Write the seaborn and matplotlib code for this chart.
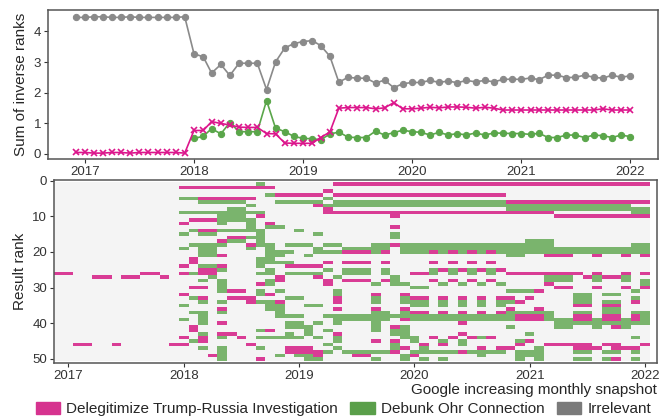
import numpy as np
import pandas as pd
import matplotlib.pyplot as plt
import matplotlib.dates as mdates
import seaborn as sns
from matplotlib.colors import ListedColormap
from matplotlib.patches import Patch

# Monthly snapshots, Dec 2016 .. Jan 2022
months = pd.date_range("2016-12-01", "2022-01-01", freq="MS")

# Sum of inverse ranks per snapshot
irrelevant = [4.46, 4.46, 4.48, 4.48, 4.46, 4.46, 4.48, 4.46, 4.46, 4.46, 4.46, 4.46, 4.48,
              3.27, 3.17, 2.64, 2.92, 2.56, 2.96, 2.96, 2.96, 2.10, 3.00, 3.46, 3.60, 3.67,
              3.70, 3.54, 3.19, 2.34, 2.50, 2.47, 2.47, 2.31, 2.41, 2.16, 2.29, 2.33, 2.33,
              2.40, 2.33, 2.38, 2.32, 2.40, 2.35, 2.40, 2.35, 2.43, 2.44, 2.43, 2.48, 2.42,
              2.57, 2.57, 2.49, 2.50, 2.57, 2.50, 2.47, 2.57, 2.50, 2.55]
delegitimize = [0.04, 0.04, 0.02, 0.02, 0.04, 0.04, 0.02, 0.04, 0.04, 0.04, 0.04, 0.04, 0.02,
                0.76, 0.76, 1.05, 0.99, 0.94, 0.87, 0.86, 0.86, 0.66, 0.65, 0.35, 0.34, 0.34,
                0.34, 0.53, 0.71, 1.49, 1.51, 1.51, 1.51, 1.47, 1.50, 1.67, 1.47, 1.47, 1.49,
                1.52, 1.50, 1.53, 1.53, 1.52, 1.49, 1.52, 1.49, 1.43, 1.43, 1.43, 1.43, 1.43,
                1.43, 1.43, 1.43, 1.43, 1.43, 1.43, 1.47, 1.43, 1.43, 1.43]
debunk = [np.nan] * 13 + [0.50, 0.57, 0.82, 0.65, 1.02, 0.72, 0.72, 0.72, 1.74, 0.84, 0.72,
                          0.57, 0.50, 0.49, 0.46, 0.64, 0.71, 0.54, 0.53, 0.53, 0.74, 0.61,
                          0.69, 0.77, 0.72, 0.70, 0.61, 0.70, 0.61, 0.66, 0.61, 0.68, 0.61,
                          0.68, 0.67, 0.66, 0.66, 0.63, 0.67, 0.53, 0.53, 0.61, 0.61, 0.53,
                          0.61, 0.59, 0.53, 0.61, 0.56]

# Result ranks (1..50) of each category per snapshot
delegitimize_ranks = [
    [26], [26], [46], [46], [27], [27], [46], [27], [27], [26], [26], [27], [46],
    [2, 12, 24, 26, 32, 44, 46],
    [2, 11, 22, 23, 30, 41, 42],
    [2, 5, 11, 14, 25, 26, 30, 33, 44, 45],
    [2, 5, 11, 14, 25, 26, 49],
    [2, 5, 17, 21, 24, 36, 40, 43],
    [2, 5, 16, 31, 33, 43],
    [2, 5, 16, 31, 33, 44],
    [2, 5, 18, 33, 34, 46],
    [2, 10, 29, 50],
    [2, 12, 32, 42],
    [4, 27, 28, 34],
    [4, 24, 47, 48],
    [4, 24, 47, 48],
    [4, 24, 47, 48],
    [4, 7, 24, 27, 48, 49],
    [3, 8, 9, 23, 28, 29],
    [1, 4, 9, 33, 34, 36, 43],
    [1, 4, 9, 20, 23, 28],
    [1, 4, 9, 20, 23, 28, 49],
    [1, 4, 9, 20, 23, 28, 49],
    [1, 4, 9, 32, 36, 45],
    [1, 4, 9, 20, 23, 28],
    [1, 4, 9, 10, 13, 18, 41, 45, 48],
    [1, 4, 9, 32, 36, 39, 47],
    [1, 4, 9, 26, 33, 37, 49],
    [1, 4, 9, 26, 33, 37, 46],
    [1, 4, 9, 20, 23, 28, 44],
    [1, 4, 9, 25, 33, 37, 46],
    [1, 4, 9, 20, 23, 28, 44],
    [1, 4, 9, 25, 33, 37, 40, 43, 48],
    [1, 4, 9, 20, 23, 28, 44],
    [1, 4, 9, 25, 33, 37, 47],
    [1, 4, 9, 20, 23, 28, 44],
    [1, 4, 9, 25, 33, 37, 47],
    [1, 6, 9, 26, 33, 36, 47],
    [1, 6, 9, 26, 34, 38, 39, 46],
    [1, 6, 9, 26, 33, 38, 39, 45],
    [1, 6, 9, 26, 31, 36, 38, 39],
    [1, 6, 9, 21, 26, 29, 46],
    [1, 6, 10, 21, 26, 30, 46],
    [1, 6, 10, 21, 26, 30, 46],
    [1, 6, 10, 26, 35, 38, 39, 46, 47],
    [1, 6, 10, 27, 35, 38, 39, 46, 47],
    [1, 6, 10, 21, 26, 30, 47],
    [1, 6, 10, 27, 35, 38, 39, 46],
    [1, 6, 10, 27, 35, 38, 39, 41, 46, 47, 50],
    [1, 6, 10, 21, 26, 30, 47],
    [1, 6, 10, 34, 38, 39, 47],
    [1, 6, 10, 21, 26, 30, 46],
]
debunk_ranks = [[]] * 13 + [
    [5, 9, 15, 19, 35, 39],
    [5, 9, 14, 18, 26, 33, 37, 45],
    [6, 9, 15, 18, 19, 20, 21, 24, 28, 34, 37, 38, 39, 40, 43, 47],
    [6, 9, 15, 18, 19, 20, 21, 24, 27],
    [6, 9, 10, 11, 12, 14, 18, 25, 28, 29, 30, 31, 34, 37, 44, 47, 48, 49, 50],
    [6, 8, 9, 10, 11, 14, 17],
    [6, 8, 9, 10, 11, 14, 17],
    [7, 9, 11, 12, 13, 14, 16, 19],
    [1, 9, 14, 15, 16, 17, 18, 22, 23, 24, 26, 31, 32, 34, 42, 44, 47],
    [4, 13, 18, 19, 20, 21, 22, 23, 25, 26, 28, 29, 34, 35, 36, 44],
    [6, 13, 20, 21, 23, 31, 35, 36, 37, 38, 44, 49],
    [6, 18, 20, 23, 26, 33, 38, 40, 41, 43, 44],
    [6, 14, 18, 26, 33, 38, 40, 41, 44, 49],
    [6, 18, 21, 26, 35, 41, 42, 43, 49, 50],
    [6, 15, 19, 20, 26, 35, 40, 44, 50],
    [5, 7, 18, 20, 25, 38, 42, 46, 48],
    [6, 7, 18, 20, 27, 31, 32, 38, 39, 40, 44, 45, 47],
    [6, 7, 19, 25, 26, 38, 39, 48],
    [6, 7, 19, 25, 26, 38, 39, 48],
    [6, 7, 19, 25, 26, 38, 39, 48],
    [6, 7, 18, 19, 20, 29, 33, 34, 37, 38, 39, 40, 41, 42, 48, 50],
    [6, 7, 18, 19, 25, 26, 37, 38, 39, 48],
    [6, 7, 15, 16, 27, 28, 29, 38, 42, 43, 46, 47],
    [6, 7, 18, 19, 20, 29, 33, 34, 37, 38, 41, 42, 43, 44, 49, 50],
    [6, 7, 18, 19, 20, 30, 34, 35, 38, 39, 44, 45, 48],
    [6, 7, 18, 19, 20, 30, 34, 35, 38, 39, 47, 48, 50],
    [6, 7, 18, 19, 25, 26, 38, 39, 48],
    [6, 7, 18, 19, 20, 29, 34, 35, 38, 39, 45, 48, 50],
    [6, 7, 18, 19, 25, 26, 38, 39, 48],
    [6, 7, 18, 19, 20, 29, 34, 35, 38, 39, 45, 46],
    [6, 7, 18, 19, 25, 26, 38, 39, 48],
    [6, 7, 18, 19, 20, 29, 34, 35, 38, 39, 44, 48, 49],
    [6, 7, 18, 19, 25, 26, 38, 39, 48],
    [6, 7, 18, 19, 20, 29, 34, 35, 38, 39, 48],
    [7, 8, 18, 19, 20, 21, 31, 34, 37, 38, 39, 41],
    [7, 8, 18, 19, 20, 21, 31, 37, 45, 48, 49, 50],
    [7, 8, 17, 18, 19, 20, 31, 37, 43, 48, 49],
    [7, 8, 17, 18, 19, 20, 37, 47, 48, 49, 50],
    [7, 8, 17, 18, 19, 20, 27, 28, 37, 38, 39],
    [7, 8, 19, 20, 27, 28, 39, 40, 41],
    [7, 8, 19, 20, 27, 28, 39, 40, 41],
    [7, 8, 19, 20, 32, 33, 34, 37, 40, 48, 50],
    [7, 8, 19, 20, 32, 33, 34, 37, 40, 48, 50],
    [7, 8, 19, 20, 27, 28, 39, 40, 41],
    [7, 8, 19, 20, 32, 34, 36, 37, 40, 48, 50],
    [7, 8, 19, 20, 32, 34, 36, 37, 40, 48],
    [7, 8, 19, 20, 27, 28, 39, 40, 41],
    [8, 9, 18, 19, 20, 31, 33, 37, 40, 44, 48, 50],
    [8, 9, 18, 19, 20, 28, 29, 37, 38, 39, 40],
]

year_labels = ["2017", "2018", "2019", "2020", "2021", "2022"]
labels = ["Delegitimize Trump-Russia Investigation", "Debunk Ohr Connection", "Irrelevant"]

MAGENTA = "#dc168c"
GREEN = "#5aa64a"
GRAY = "#8a8a8a"

sns.set_style("ticks")
plt.rcParams["font.family"] = ["Liberation Sans", "DejaVu Sans"]
plt.rcParams["axes.edgecolor"] = "#555555"
plt.rcParams["xtick.color"] = "#333333"
plt.rcParams["ytick.color"] = "#333333"

fig = plt.figure(figsize=(6.62, 4.19), dpi=100)
ax1 = fig.add_axes([0.0725, 0.620, 0.9215, 0.356])
ax2 = fig.add_axes([0.0816, 0.134, 0.9108, 0.436])

# Top: line chart
sns.lineplot(x=months, y=irrelevant, ax=ax1, color=GRAY, marker="o", markersize=4.5,
             markeredgecolor=GRAY, linewidth=1.2)
sns.lineplot(x=months, y=debunk, ax=ax1, color=GREEN, marker="o", markersize=4.5,
             markeredgecolor=GREEN, linewidth=1.2)
sns.lineplot(x=months, y=delegitimize, ax=ax1, color=MAGENTA, marker="x", markersize=4,
             markeredgecolor=MAGENTA, markeredgewidth=1.2, linewidth=1.2)
ax1.margins(x=0.05)
ax1.set_ylim(-0.18, 4.7)
ax1.set_yticks([0, 1, 2, 3, 4])
ax1.xaxis.set_major_locator(mdates.YearLocator())
ax1.xaxis.set_major_formatter(mdates.DateFormatter("%Y"))
ax1.set_ylabel("Sum of inverse ranks", fontsize=11)
ax1.tick_params(labelsize=9.5, length=3, width=0.8, pad=2)
for s in ax1.spines.values():
    s.set_linewidth(1.1)

# Bottom: rank heatmap
grid = np.zeros((50, len(months)))
for c, ranks in enumerate(delegitimize_ranks):
    for r in ranks:
        grid[r - 1, c] = 1
for c, ranks in enumerate(debunk_ranks):
    for r in ranks:
        grid[r - 1, c] = 2

cmap = ListedColormap(["#f4f4f4", "#d93c95", "#7ab46d"])
sns.heatmap(grid, ax=ax2, cmap=cmap, vmin=-0.5, vmax=2.5, cbar=False,
            linewidths=0, xticklabels=False, yticklabels=False)
for s in ax2.spines.values():
    s.set_visible(True)
    s.set_linewidth(1.1)
    s.set_color("#555555")
jan_idx = [i for i, m in enumerate(months) if m.month == 1]
ax2.set_xticks([i + 0.5 for i in jan_idx])
ax2.set_xticklabels(year_labels, rotation=0)
ax2.set_yticks([-0.5, 9.5, 19.5, 29.5, 39.5, 49.5])
ax2.set_yticklabels(["0", "10", "20", "30", "40", "50"], rotation=0)
ax2.set_xlim(0, len(months) + 0.75)
ax2.set_ylim(50.6, -0.6)
ax2.tick_params(labelsize=9.5, length=3, width=0.8, pad=2, bottom=True, left=True)
ax2.set_ylabel("Result rank", fontsize=11)
ax2.set_xlabel("Google increasing monthly snapshot", fontsize=11, loc="right", labelpad=1)

handles = [Patch(color="#d6338f"), Patch(color="#5a9f4a"), Patch(color="#7a7a7a")]
fig.legend(handles, labels, loc="lower right", bbox_to_anchor=(0.995, -0.012), ncol=3,
           frameon=False, fontsize=11, handlelength=1.6, handleheight=0.8,
           handletextpad=0.4, columnspacing=0.8, borderaxespad=0.1)

fig.savefig("out.png", dpi=100)
